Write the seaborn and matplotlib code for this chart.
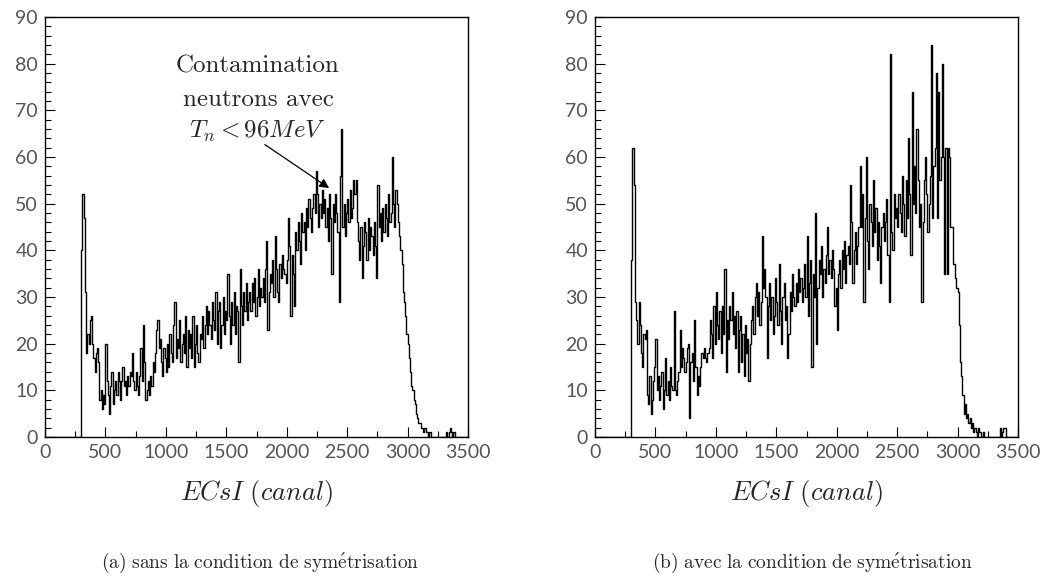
import numpy as np
import pandas as pd
import matplotlib
matplotlib.use('Agg')
import matplotlib.pyplot as plt
import seaborn as sns

# histogram contents, 10-channel bins, first bin starts at channel 300
start_ch = 300
bin_w = 10

counts_a = [
    40, 52, 47, 31, 18, 22, 20, 25, 26, 20,
    17, 14, 18, 19, 16, 8, 10, 6, 9, 7,
    20, 12, 9, 5, 11, 14, 7, 10, 12, 9,
    14, 12, 8, 12, 15, 11, 12, 9, 13, 11,
    14, 13, 18, 12, 10, 14, 11, 9, 13, 19,
    12, 24, 16, 8, 10, 12, 9, 13, 11, 16,
    14, 18, 23, 25, 19, 21, 16, 13, 19, 17,
    14, 20, 15, 22, 18, 16, 24, 29, 17, 21,
    19, 25, 16, 20, 22, 18, 26, 15, 23, 19,
    22, 17, 26, 15, 20, 24, 18, 16, 22, 21,
    26, 19, 24, 28, 22, 27, 24, 21, 29, 25,
    23, 31, 20, 27, 29, 19, 24, 30, 22, 27,
    25, 35, 26, 20, 29, 24, 31, 22, 28, 27,
    16, 36, 28, 24, 31, 27, 33, 25, 29, 31,
    27, 33, 29, 34, 26, 30, 36, 28, 32, 30,
    34, 29, 36, 42, 23, 31, 35, 33, 38, 30,
    43, 36, 31, 29, 37, 34, 39, 36, 35, 33,
    38, 47, 41, 26, 39, 35, 28, 44, 40, 46,
    42, 37, 48, 44, 46, 40, 49, 45, 51, 47,
    44, 49, 52, 48, 57, 52, 45, 50, 47, 53,
    48, 51, 45, 49, 42, 52, 47, 35, 50, 46,
    52, 48, 44, 29, 56, 66, 45, 50, 43, 48,
    51, 46, 53, 47, 49, 55, 52, 55, 46, 42,
    38, 45, 34, 41, 46, 44, 38, 47, 40, 45,
    43, 39, 46, 41, 34, 54, 45, 48, 42, 49,
    44, 50, 47, 43, 52, 46, 48, 60, 50, 45,
    53, 50, 46, 43, 40, 37, 31, 29, 26, 22,
    20, 17, 14, 11, 10, 8, 7, 5, 4, 3,
    3, 2, 2, 1, 2, 1, 1, 0, 1, 0,
    0, 0, 0, 0, 0, 0, 0, 0, 0, 0,
    0, 0, 1, 0, 1, 2, 1, 0, 1, 0,
]

counts_b = [
    38, 62, 54, 29, 25, 20, 29, 24, 18, 15,
    22, 21, 23, 9, 7, 13, 5, 8, 12, 15,
    21, 10, 13, 8, 11, 14, 6, 10, 17, 9,
    12, 8, 15, 11, 10, 27, 10, 9, 12, 14,
    23, 15, 19, 17, 14, 16, 19, 20, 4, 16,
    18, 12, 25, 15, 9, 13, 11, 15, 18, 17,
    19, 17, 16, 18, 19, 25, 22, 17, 28, 20,
    31, 24, 21, 27, 18, 28, 22, 36, 14, 25,
    21, 28, 25, 31, 22, 26, 19, 27, 14, 23,
    26, 16, 22, 13, 24, 18, 21, 12, 20, 25,
    28, 22, 30, 33, 26, 31, 24, 29, 43, 32,
    36, 30, 17, 28, 33, 25, 30, 22, 26, 34,
    29, 24, 37, 27, 20, 30, 33, 25, 28, 17,
    22, 31, 27, 35, 30, 28, 33, 29, 36, 31,
    34, 29, 32, 37, 30, 43, 26, 33, 38, 15,
    35, 30, 48, 20, 32, 38, 35, 41, 30, 36,
    33, 39, 45, 35, 38, 34, 40, 36, 28, 32,
    23, 35, 38, 32, 40, 36, 42, 33, 39, 41,
    37, 54, 46, 33, 40, 44, 37, 41, 45, 58,
    45, 52, 29, 47, 60, 42, 36, 50, 46, 41,
    55, 44, 49, 38, 46, 41, 33, 45, 48, 42,
    46, 51, 39, 29, 82, 44, 40, 52, 47, 49,
    45, 52, 48, 44, 56, 50, 43, 55, 47, 64,
    52, 39, 74, 50, 58, 48, 66, 55, 45, 50,
    29, 46, 55, 60, 52, 44, 50, 56, 84, 47,
    58, 62, 78, 47, 74, 55, 60, 80, 60, 35,
    62, 35, 62, 60, 45, 45, 37, 37, 34, 32,
    31, 24, 16, 13, 9, 5, 7, 4, 5, 3,
    4, 2, 3, 1, 2, 1, 0, 2, 1, 0,
    0, 1, 0, 0, 0, 0, 0, 0, 0, 0,
    0, 0, 0, 0, 0, 2, 0, 1, 2, 2,
]

captions = [r'$\mathrm{(a)\ sans\ la\ condition\ de\ sym\acute{e}trisation}$',
            r'$\mathrm{(b)\ avec\ la\ condition\ de\ sym\acute{e}trisation}$']
xlabel = r'$ECsI\ (canal)$'
note_lines = ['Contamination', 'neutrons avec', r'$T_n < 96MeV$']

sns.set_style('ticks')
plt.rcParams['font.family'] = ['Lato', 'DejaVu Sans']
plt.rcParams['mathtext.fontset'] = 'cm'

n_bins = 3500 // bin_w


def make_df(counts):
    full = np.zeros(n_bins)
    i0 = start_ch // bin_w
    full[i0:i0 + len(counts)] = counts
    centers = np.arange(n_bins) * bin_w + bin_w / 2
    return pd.DataFrame({'canal': centers, 'n': full})


fig = plt.figure(figsize=(10.45, 5.8), dpi=100)
ax1 = fig.add_axes([45 / 1045, 1 - 437 / 580, 423 / 1045, 420 / 580])
ax2 = fig.add_axes([595 / 1045, 1 - 437 / 580, 423 / 1045, 420 / 580])

for ax, counts, cap, cx in [(ax1, counts_a, captions[0], 260), (ax2, counts_b, captions[1], 812)]:
    sns.histplot(data=make_df(counts), x='canal', weights='n',
                 binwidth=bin_w, binrange=(0, 3500),
                 element='step', fill=False, color='black', linewidth=1.0, ax=ax)
    ax.set_xlim(0, 3500)
    ax.set_ylim(0, 90)
    ax.set_xticks(np.arange(0, 3501, 500))
    ax.set_xticks(np.arange(0, 3501, 250), minor=True)
    ax.set_yticks(np.arange(0, 91, 10))
    ax.set_yticks(np.arange(0, 91, 2), minor=True)
    ax.tick_params(which='both', direction='in', top=False, right=False,
                   labelsize=14, labelcolor='#555555', color='black', width=0.8)
    ax.tick_params(which='major', length=7, pad=5)
    ax.tick_params(which='minor', length=4)
    for s in ax.spines.values():
        s.set_linewidth(1.0)
        s.set_color('black')
    ax.set_xlabel(xlabel, fontsize=19, labelpad=12)
    ax.set_ylabel('')
    fig.text(cx / 1045, 1 - 563 / 580, cap, fontsize=14, ha='center', va='center')

# annotation on the left panel
for line, yv in zip(note_lines, [79.3, 72.2, 65.4]):
    ax1.text(1762, yv, line, family='cmr10', fontsize=18, ha='center', va='center')
ax1.annotate('', xy=(2370, 53), xytext=(1800, 63),
             arrowprops=dict(arrowstyle='-|>', color='black', lw=0.9,
                             mutation_scale=14))

fig.savefig('out.png', dpi=100)
